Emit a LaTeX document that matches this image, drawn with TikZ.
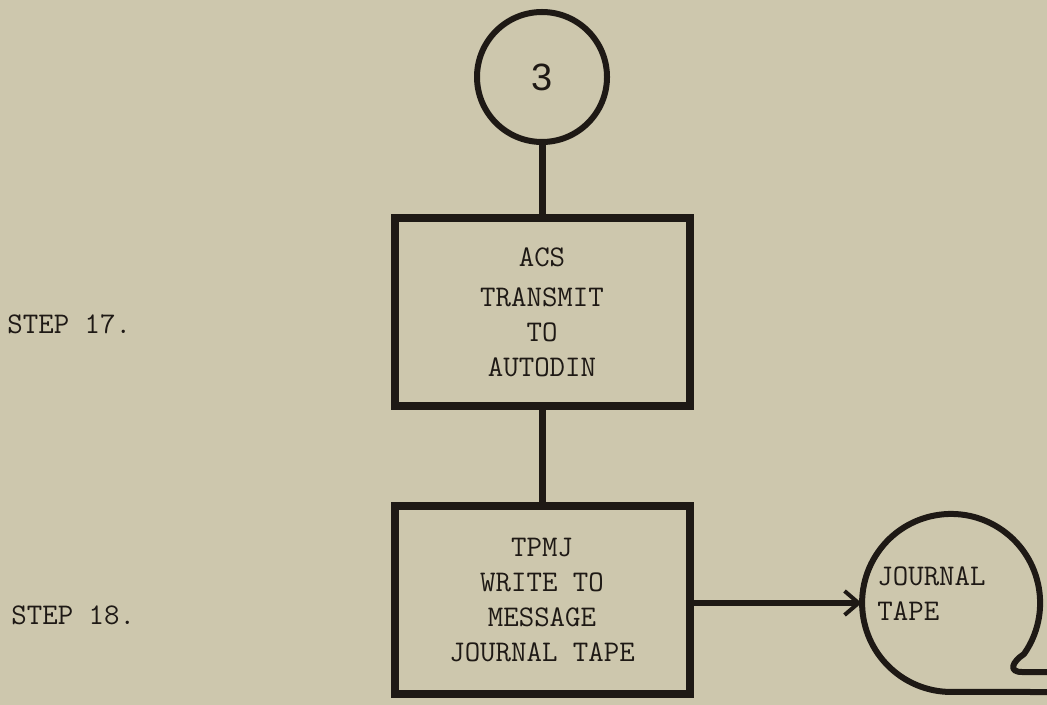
\documentclass[tikz,border=0pt]{standalone}
\usepackage{fontspec}
\newfontfamily\digitfont{Liberation Sans}
\usetikzlibrary{arrows.meta, positioning}
\definecolor{paper}{HTML}{CDC7AD}
\definecolor{ink}{HTML}{1E1915}

\begin{document}
\begin{tikzpicture}[x=0.5pt, y=-0.5pt,
    every node/.style={font=\ttfamily\fontsize{15}{17.5}\selectfont, text=ink, inner sep=0pt},
    blk/.style={rectangle, draw=ink, line width=4pt,
                minimum width=147.5pt, minimum height=94pt, align=center},
    conn/.style={circle, draw=ink, line width=3pt, minimum size=65pt,
                 font=\digitfont\fontsize{19}{19}\selectfont},
    tapenode/.style={circle, minimum size=89pt},
    lnk/.style={draw=ink, line width=3.5pt},
    tapeline/.style={draw=ink, line width=3pt, line join=round},
    arr/.style={-{Straight Barb[length=7pt, width=12pt, line width=2pt]}, draw=ink, line width=3pt}
]
    \path[fill=paper] (0,0) rectangle (1047,705);
    \useasboundingbox (0,0) rectangle (1047,705);

    \node[conn] (conn3) at (542,77) {3};
    \node[blk] (acs) at (542,312) {ACS\\[2.5pt]TRANSMIT\\TO\\AUTODIN};
    \node[blk] (tpmj) at (542,600) {TPMJ\\WRITE TO\\MESSAGE\\JOURNAL TAPE};
    \node[tapenode] (tape) at (951,603) {};
    \node[anchor=west, align=left] (tapetxt) at (877,594) {JOURNAL\\TAPE};

    \node[anchor=west] (step17) at (7,324) {STEP 17.};
    \node[anchor=west] (step18) at (11,615) {STEP 18.};

    \draw[lnk] (conn3) -- (acs);
    \draw[lnk] (acs) -- (tpmj);
    \draw[arr] (tpmj.east |- tape.west) -- (tape.west);

    % tape reel with its run-off line
    \draw[tapeline] (1047,672) -- (1022,672) .. controls (1008,672) and (1012,662) .. (1024,654)
        arc[start angle=35, end angle=-270, radius=89] -- (1047,692);
\end{tikzpicture}
\end{document}
